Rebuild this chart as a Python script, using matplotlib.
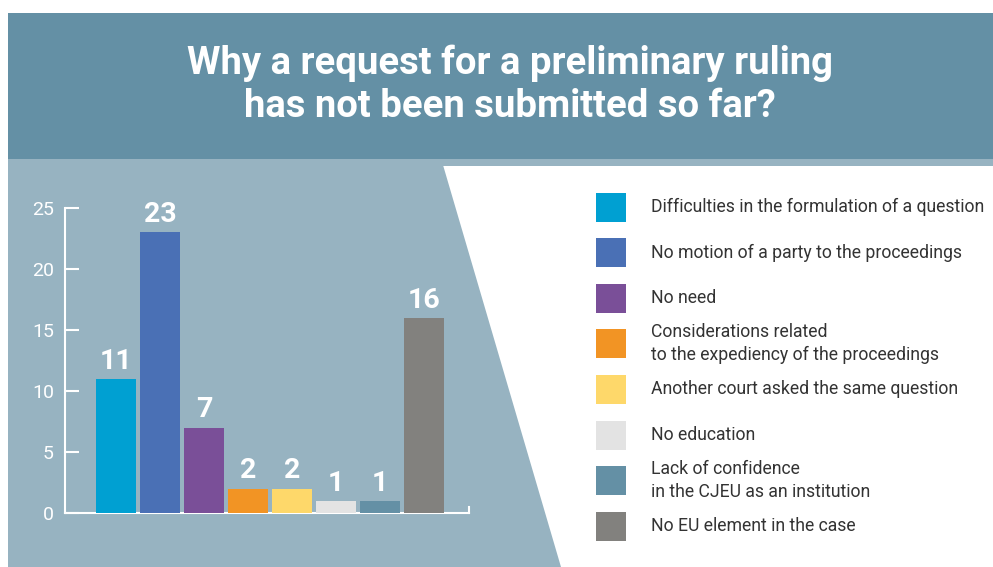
import matplotlib
matplotlib.use("Agg")
import matplotlib.pyplot as plt
from matplotlib.patches import Polygon, Rectangle

categories = [
    "Difficulties in the formulation of a question",
    "No motion of a party to the proceedings",
    "No need",
    "Considerations related\nto the expediency of the proceedings",
    "Another court asked the same question",
    "No education",
    "Lack of confidence\nin the CJEU as an institution",
    "No EU element in the case",
]
values = [11, 23, 7, 2, 2, 1, 1, 16]
colors = ["#00a0d2", "#4a70b5", "#7a4f98", "#f29424", "#fed86a", "#e3e3e3", "#6490a5", "#82817e"]
yticks = [0, 5, 10, 15, 20, 25]
title = "Why a request for a preliminary ruling\nhas not been submitted so far?"

W, H = 993, 567
fig = plt.figure(figsize=(W / 100, H / 100), dpi=100)
fig.patch.set_facecolor("white")

FONT = ["Roboto", "DejaVu Sans"]

# background layer in pixel coordinates
bg = fig.add_axes([0, 0, 1, 1])
bg.set_xlim(0, W)
bg.set_ylim(H, 0)
bg.axis("off")
bg.add_patch(Rectangle((8, 159), W - 8, 7, color="#97b3c1", lw=0))
bg.add_patch(Polygon([(8, 165), (443, 165), (561, H), (8, H)], closed=True, color="#97b3c1", lw=0))
bg.add_patch(Rectangle((8, 13), W - 8, 146, color="#6490a5", lw=0))
bg.text(510, 85, title, ha="center", va="center", color="white", fontsize=27.5,
        fontweight="bold", family=FONT, linespacing=1.2)

# legend drawn manually
for i, (lab, col) in enumerate(zip(categories, colors)):
    yc = 207 + i * 45.6
    bg.add_patch(Rectangle((596, yc - 14.5), 30, 29, color=col, lw=0))
    bg.text(651, yc, lab, ha="left", va="center", color="#333333", fontsize=12.7,
            family=FONT, linespacing=1.35)

# chart axes
ax = fig.add_axes([65 / W, 1 - 513 / H, (469 - 65) / W, (513 - 208) / H])
ax.patch.set_alpha(0)
x = list(range(len(values)))
bars = ax.bar(x, values, width=0.91, color=colors, zorder=3)
ax.set_xlim(-1.16, 8.02)
ax.set_ylim(0, 25)
for xi, v in zip(x, values):
    ax.annotate(str(v), (xi, v), xytext=(0, 3), textcoords="offset points",
                ha="center", va="bottom", color="white", fontsize=20.5,
                fontweight="bold", family=FONT)
for s in ["top", "right"]:
    ax.spines[s].set_visible(False)
for s in ["left", "bottom"]:
    ax.spines[s].set_color("white")
    ax.spines[s].set_linewidth(1.5)
ax.set_yticks(yticks)
ax.tick_params(axis="y", direction="in", length=10, width=1.5, color="white",
               labelcolor="white", labelsize=14, pad=8)
for t in ax.get_yticklabels():
    t.set_family(FONT)
ax.set_xticks([])
ax.plot([8.02, 8.02], [0, 0.5], color="white", lw=1.5, clip_on=False)

fig.savefig("out.png", dpi=100, facecolor=fig.get_facecolor())
